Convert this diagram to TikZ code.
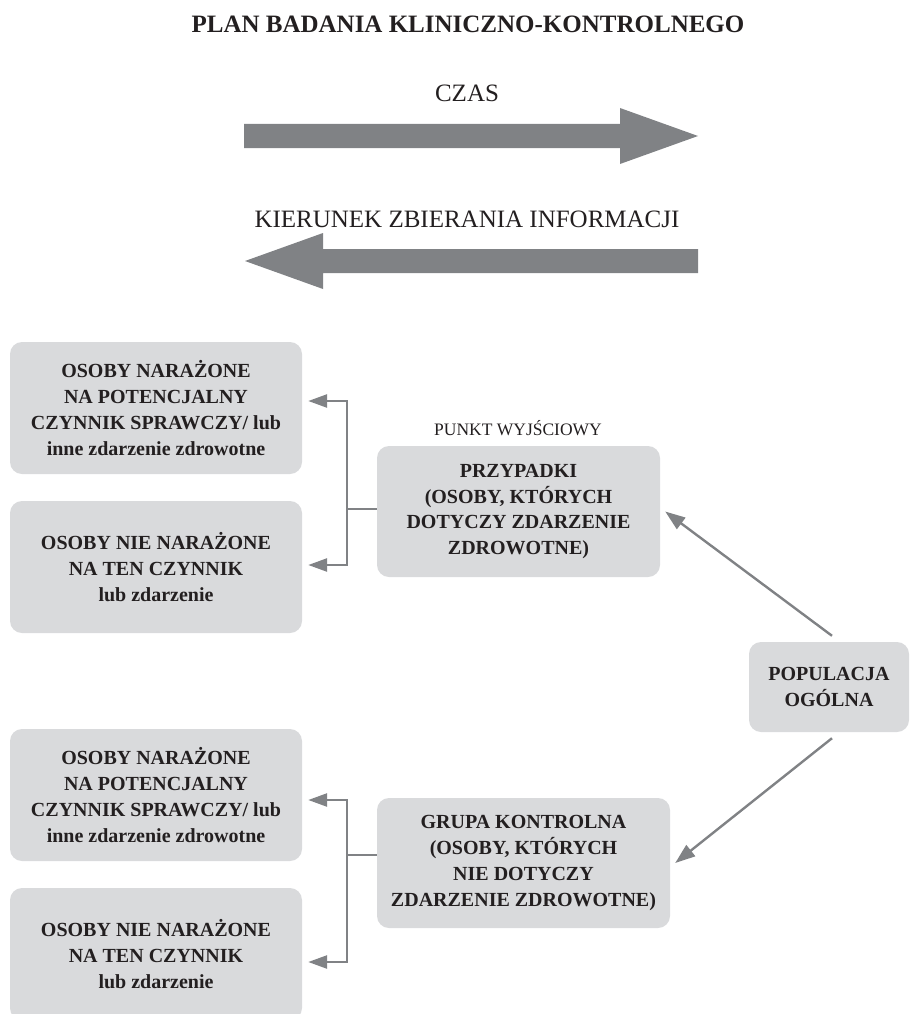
\documentclass[tikz,border=0pt]{standalone}
\usepackage{fontspec}
\setmainfont{Liberation Serif}
\usetikzlibrary{arrows.meta,calc}
\definecolor{boxgray}{HTML}{D9DADC}
\definecolor{arrgray}{HTML}{808285}
\definecolor{txt}{HTML}{231F20}
\begin{document}
\begin{tikzpicture}[x=1pt,y=-1pt,
  box/.style={fill=boxgray, rounded corners=12pt, text=txt, align=center, inner sep=0pt,
    font=\bfseries\fontsize{20}{25.8}\selectfont},
  label/.style={text=txt, inner sep=0pt, anchor=base},
  link/.style={draw=arrgray, line width=2.6pt},
  tipped/.style={link, -{Triangle[length=19pt,width=13pt]}},
  diag/.style={draw=arrgray, line width=2.4pt, -{Triangle[length=20pt,width=14pt]}},
  bigarrow/.style={fill=arrgray}]
\useasboundingbox (0,0) rectangle (910,1014);

% title and time arrows
\node[label, font=\bfseries\fontsize{25}{30}\selectfont] (title) at (468,33) {PLAN BADANIA KLINICZNO-KONTROLNEGO};
\node[label, font=\fontsize{25}{30}\selectfont] (czas) at (467,102) {CZAS};
\fill[bigarrow] (244,124) -- (620,124) -- (620,108) -- (698,136) -- (620,164) -- (620,148) -- (244,148) -- cycle;
\node[label, font=\fontsize{25}{30}\selectfont] (kier) at (467,227) {KIERUNEK ZBIERANIA INFORMACJI};
\fill[bigarrow] (698,249) -- (323,249) -- (323,233) -- (245,261) -- (323,289) -- (323,273) -- (698,273) -- cycle;

% boxes
\node[box, minimum width=292pt, minimum height=132pt] (o1) at (156,408)
  {OSOBY NARAŻONE\\NA POTENCJALNY\\CZYNNIK SPRAWCZY/ lub\\inne zdarzenie zdrowotne};
\node[box, minimum width=292pt, minimum height=132pt] (o2) at (156,567)
  {OSOBY NIE NARAŻONE\\NA TEN CZYNNIK\\lub zdarzenie};
\node[box, minimum width=292pt, minimum height=132pt] (o3) at (156,795)
  {OSOBY NARAŻONE\\NA POTENCJALNY\\CZYNNIK SPRAWCZY/ lub\\inne zdarzenie zdrowotne};
\node[box, minimum width=292pt, minimum height=132pt] (o4) at (156,954)
  {OSOBY NIE NARAŻONE\\NA TEN CZYNNIK\\lub zdarzenie};

\node[label, font=\fontsize{17.5}{21}\selectfont] (punkt) at (518,435) {PUNKT WYJŚCIOWY};
\node[box, minimum width=283pt, minimum height=131pt] (prz) at (518.5,511.5)
  {PRZYPADKI\\(OSOBY, KTÓRYCH\\DOTYCZY ZDARZENIE\\ZDROWOTNE)};
\node[box, minimum width=293pt, minimum height=130pt] (gru) at (523.5,863)
  {GRUPA KONTROLNA\\(OSOBY, KTÓRYCH\\NIE DOTYCZY\\ZDARZENIE ZDROWOTNE)};
\node[box, minimum width=160pt, minimum height=90pt] (pop) at (829,687)
  {POPULACJA\\OGÓLNA};

% brackets
\coordinate (j1) at (347,509);
\draw[link] (prz.west |- j1) -- (j1);
\draw[tipped] (j1) |- ($(o1.east)+(6,-7)$);
\draw[tipped] (j1) |- ($(o2.east)+(6,-2)$);

\coordinate (j2) at (347,855);
\draw[link] (gru.west |- j2) -- (j2);
\draw[tipped] (j2) |- ($(o3.east)+(6,5)$);
\draw[tipped] (j2) |- ($(o4.east)+(6,8)$);

% diagonal arrows
\draw[diag] ($(pop.north)+(3,-6)$) -- ($(prz.east)+(5,0)$);
\draw[diag] ($(pop.south)+(3,6)$) -- ($(gru.east)+(5,0)$);
\end{tikzpicture}
\end{document}
